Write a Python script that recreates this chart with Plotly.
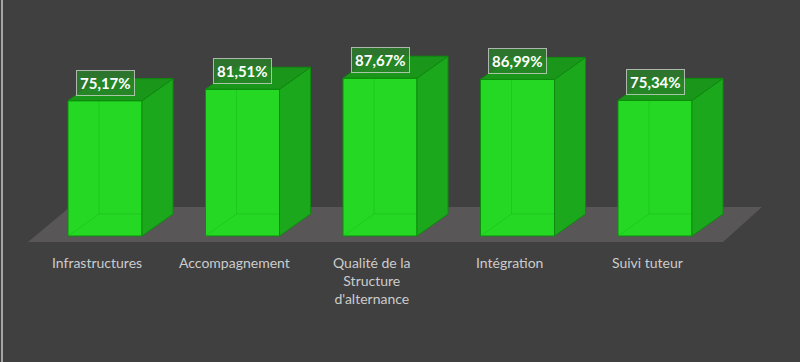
import plotly.graph_objects as go

categories = ["Infrastructures", "Accompagnement", "Qualité de la<br>Structure<br>d'alternance", "Intégration", "Suivi tuteur"]
values = [75.17, 81.51, 87.67, 86.99, 75.34]
value_labels = ["75,17%", "81,51%", "87,67%", "86,99%", "75,34%"]

W, H = 800, 362
PX_PER_CAT = 137.5
PX_PER_UNIT = 1.8
X0_PX = 105.0   # px position of first category
Y0_PX = 236.0   # px position of value 0

def ux(px):
    return (px - X0_PX) / PX_PER_CAT

def uy(py):
    return (Y0_PX - py) / PX_PER_UNIT

BW = 74 / PX_PER_CAT
DX = 31 / PX_PER_CAT
DY = 22 / PX_PER_UNIT

FRONT = "rgb(36,216,36)"
SIDE = "rgb(28,168,28)"
TOP = "rgb(26,150,26)"
EDGE = "rgb(12,140,12)"
HIDDEN = "rgba(20,170,20,0.3)"
BG = "#404040"

idx = list(range(len(values)))
fig = go.Figure()

# floor
fl = [(28, 242), (723, 242), (762, 207), (70, 207)]
path = "M " + " L ".join(f"{ux(a)},{uy(b)}" for a, b in fl) + " Z"
fig.add_shape(type="path", path=path, xref="x", yref="y", fillcolor="#595657",
              line=dict(width=0), layer="below")

# front faces
fig.add_trace(go.Bar(x=idx, y=values, width=BW, marker=dict(color=FRONT, line=dict(color=EDGE, width=1)),
                     hoverinfo="skip"))

for i, v in zip(idx, values):
    xl, xr = i - BW / 2, i + BW / 2
    # hidden edges
    fig.add_trace(go.Scatter(x=[xl, xl + DX, xl + DX, None, xl + DX, xr + DX],
                             y=[0, DY, v + DY, None, DY, DY], mode="lines",
                             line=dict(color=HIDDEN, width=1), hoverinfo="skip"))
    # side face
    fig.add_trace(go.Scatter(x=[xr, xr + DX, xr + DX, xr, xr], y=[0, DY, v + DY, v, 0],
                             mode="lines", fill="toself", fillcolor=SIDE,
                             line=dict(color=EDGE, width=1), hoverinfo="skip"))
    # top face
    fig.add_trace(go.Scatter(x=[xl, xr, xr + DX, xl + DX, xl], y=[v, v, v + DY, v + DY, v],
                             mode="lines", fill="toself", fillcolor=TOP,
                             line=dict(color=EDGE, width=1), hoverinfo="skip"))

for i, v, t in zip(idx, values, value_labels):
    fig.add_annotation(x=i, y=v, text=f"<b>{t}</b>", showarrow=False, yshift=18,
                       font=dict(family="Lato, Open Sans, sans-serif", size=15, color="white"),
                       bgcolor="rgba(40,130,40,0.8)", bordercolor="rgba(215,215,215,0.75)",
                       borderwidth=1, borderpad=3)

for i, c in zip(idx, categories):
    fig.add_annotation(x=i, y=uy(252), xshift=-8, text=c, showarrow=False, yanchor="top",
                       font=dict(family="Lato, Open Sans, sans-serif", size=14, color="#cccccc"))

# left border line
fig.add_shape(type="line", xref="paper", yref="paper", x0=0.0025, x1=0.0025, y0=0, y1=1,
              line=dict(color="#c8c8c8", width=1.5))

fig.update_layout(
    width=W, height=H, margin=dict(l=0, r=0, t=0, b=0),
    paper_bgcolor=BG, plot_bgcolor=BG, showlegend=False, barmode="overlay",
    xaxis=dict(range=[ux(0), ux(W)], visible=False, fixedrange=True),
    yaxis=dict(range=[uy(H), uy(0)], visible=False, fixedrange=True),
)

fig.write_html("out.html", config={"displayModeBar": False},
               post_script="document.body.style.margin='0';document.body.style.overflow='hidden';")
